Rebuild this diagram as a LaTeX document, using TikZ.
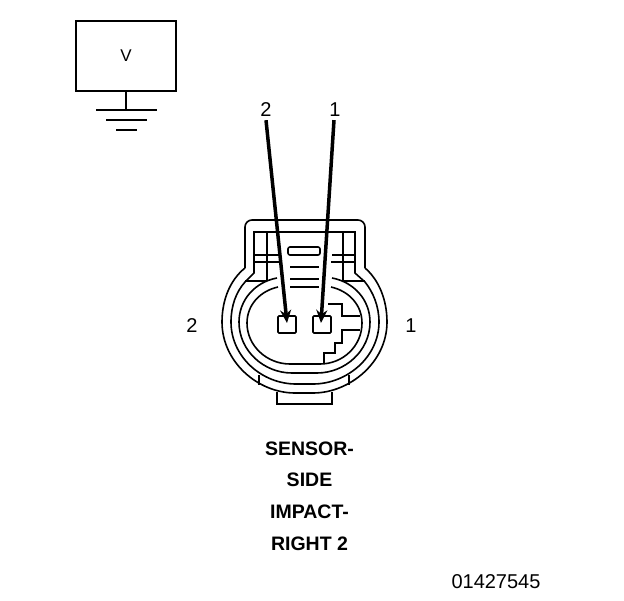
\documentclass[tikz,border=0pt]{standalone}
\usepackage{fontspec}
\setmainfont{Liberation Sans}
\usetikzlibrary{arrows.meta,positioning}
\tikzset{
	part/.style={line width=1.6pt},
	pin/.style={draw, line width=1.6pt, minimum width=18pt, minimum height=17pt, inner sep=0pt, rounded corners=1pt},
	caption/.style={font=\fontsize{19.5}{22}\selectfont\bfseries, inner sep=0pt},
	plain/.style={font=\fontsize{20}{22}\selectfont, inner sep=0pt}
}
\begin{document}
\begin{tikzpicture}[x=1pt, y=-1pt]
	\useasboundingbox (0,0) rectangle (624,600);
	% voltmeter and ground
	\node [draw, line width=1.6pt, minimum width=100pt, minimum height=70pt, inner sep=0pt, font=\fontsize{17}{20}\selectfont] (meter) at (126,56) {V};
	\coordinate (gnd) at (126,110);
	\draw [part] (meter.south) -- (gnd);
	\draw [part] (96,110) -- (157,110);
	\draw [part] (106,120) -- (147,120);
	\draw [part] (116,130) -- (137,130);
	% connector body
	\draw [part, rounded corners=7pt] (245,268) -- (245,220) -- (365,220) -- (365,268);
	\draw [part] (245,268) .. controls (230,280) and (222,300) .. (222,322) .. controls (222,362) and (258,393) .. (295,393) -- (313,393) .. controls (350,393) and (387,362) .. (387,322) .. controls (387,300) and (379,280) .. (365,268);
	\draw [part] (254,232) -- (254,273) -- (245,282) .. controls (236,292) and (231,306) .. (231,322) .. controls (231,357) and (262,384) .. (296,384) -- (313,384) .. controls (347,384) and (379,357) .. (379,322) .. controls (379,306) and (373,292) .. (365,282) -- (355,273) -- (355,232) -- cycle;
	\draw [part] (277,278) .. controls (255,282) and (239,300) .. (239,322) .. controls (239,351) and (264,373) .. (292,373) -- (317,373) .. controls (345,373) and (370,351) .. (370,322) .. controls (370,300) and (354,282) .. (332,278);
	\draw [part] (278,287) .. controls (260,291) and (247,305) .. (247,323) .. controls (247,346) and (267,364) .. (290,364) -- (320,364) .. controls (343,364) and (362,346) .. (362,323) .. controls (362,305) and (349,291) .. (331,287);
	\draw [part] (267,232) -- (267,281);
	\draw [part] (343,232) -- (343,281);
	\draw [part] (245,281) -- (267,281);
	\draw [part] (343,281) -- (365,281);
	\draw [part] (254,255) -- (280,255);
	\draw [part] (254,262) -- (281,262);
	\draw [part] (332,255) -- (355,255);
	\draw [part] (331,262) -- (355,262);
	\draw [part, rounded corners=2pt] (288,247) rectangle (320,255);
	\draw [part] (290,267) -- (319,267);
	\draw [part] (290,279) -- (319,279);
	\draw [part] (290,287) -- (319,287);
	% key
	\draw [part] (328,304) -- (342,304) -- (342,316) -- (360,316);
	\draw [part] (360,330) -- (342,330) -- (342,343) -- (335,343) -- (335,353) -- (324,353) -- (324,364);
	% tabs
	\draw [part] (259,375) -- (259,385);
	\draw [part] (349,375) -- (349,385);
	\draw [part] (277,392) -- (277,404) -- (332,404) -- (332,392);
	% pins and arrows
	\node [pin] (pinTwo) at (287,324.5) {};
	\node [pin] (pinOne) at (322,324.5) {};
	\node [plain] (labTwo) at (266,110) {2};
	\node [plain] (labOne) at (335,110) {1};
	\coordinate (tipTwo) at (287,323);
	\coordinate (tipOne) at (321,323);
	\draw [line width=3.5pt, -{Stealth[length=13pt,width=11pt]}] (labTwo.south) ++(0,3) -- (tipTwo);
	\draw [line width=3.5pt, -{Stealth[length=13pt,width=11pt]}] (labOne.south) ++(-1,3) -- (tipOne);
	% texts
	\node [plain] (sideTwo) at (192,326) {2};
	\node [plain] (sideOne) at (411,326) {1};
	\node [caption] (capA) at (309.5,449) {SENSOR-};
	\node [caption] (capB) at (309.5,480) {SIDE};
	\node [caption] (capC) at (309.5,512) {IMPACT-};
	\node [caption] (capD) at (309.5,544) {RIGHT 2};
	\node [plain] (partNo) at (496,582) {01427545};
\end{tikzpicture}
\end{document}
